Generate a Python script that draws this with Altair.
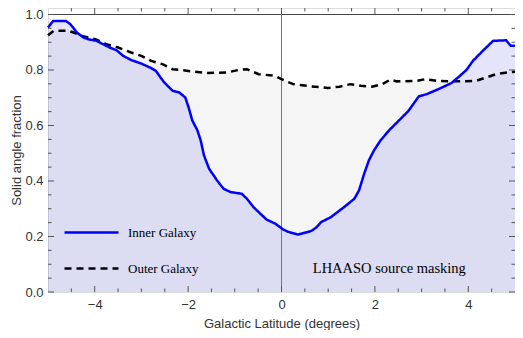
import altair as alt
import pandas as pd

# ---- data ----
x_inner = [-5.0, -4.89, -4.62, -4.52, -4.38, -4.24, -4.14, -3.96, -3.82, -3.68, -3.53, -3.39, -3.22, -3.00,
           -2.79, -2.69, -2.59, -2.51, -2.33, -2.19, -2.06, -1.98, -1.91, -1.80, -1.73, -1.66, -1.55, -1.38,
           -1.24, -1.09, -0.85, -0.74, -0.60, -0.49, -0.32, -0.14, 0.04, 0.14, 0.35, 0.64, 0.74, 0.85, 1.06,
           1.34, 1.56, 1.66, 1.77, 1.87, 1.98, 2.12, 2.30, 2.55, 2.72, 2.94, 3.11, 3.36, 3.64, 3.78, 3.96,
           4.10, 4.31, 4.53, 4.81, 4.91, 5.0]
y_inner = [0.953, 0.977, 0.977, 0.965, 0.935, 0.917, 0.911, 0.905, 0.893, 0.881, 0.871, 0.851, 0.836, 0.823,
           0.807, 0.797, 0.773, 0.755, 0.725, 0.719, 0.701, 0.660, 0.618, 0.582, 0.546, 0.492, 0.444, 0.402,
           0.372, 0.360, 0.354, 0.336, 0.306, 0.288, 0.261, 0.247, 0.225, 0.217, 0.207, 0.220, 0.232, 0.252,
           0.270, 0.306, 0.336, 0.366, 0.426, 0.474, 0.510, 0.546, 0.582, 0.624, 0.653, 0.705, 0.713, 0.731,
           0.753, 0.773, 0.800, 0.833, 0.869, 0.905, 0.907, 0.887, 0.887]

x_outer = [-5.0, -4.88, -4.56, -4.45, -4.28, -3.99, -3.75, -3.50, -3.22, -3.00, -2.79, -2.55, -2.33, -1.91,
           -1.62, -1.17, -0.92, -0.74, -0.49, -0.14, 0.0, 0.25, 0.64, 0.99, 1.24, 1.48, 1.70, 1.94, 2.16,
           2.33, 2.47, 2.90, 3.08, 3.32, 3.75, 4.17, 4.38, 4.60, 4.84, 5.0]
y_outer = [0.925, 0.941, 0.941, 0.935, 0.923, 0.911, 0.893, 0.881, 0.863, 0.851, 0.833, 0.821, 0.803, 0.795,
           0.789, 0.791, 0.800, 0.803, 0.785, 0.779, 0.767, 0.749, 0.741, 0.735, 0.740, 0.749, 0.743, 0.740,
           0.749, 0.765, 0.759, 0.761, 0.767, 0.761, 0.759, 0.761, 0.773, 0.785, 0.791, 0.794]

series_names = ["Inner Galaxy", "Outer Galaxy"]
x_major = [-4, -2, 0, 2, 4]
x_minor = [-4.5, -3.5, -3, -2.5, -1.5, -1, -0.5, 0.5, 1, 1.5, 2.5, 3, 3.5, 4.5]
y_major = [0.0, 0.2, 0.4, 0.6, 0.8, 1.0]
y_minor = [0.05, 0.1, 0.15, 0.25, 0.3, 0.35, 0.45, 0.5, 0.55, 0.65, 0.7, 0.75, 0.85, 0.9, 0.95]
annotation = "LHAASO source masking"

# ---- tables ----
df_in = pd.DataFrame({"b": x_inner, "f": y_inner, "series": series_names[0]})
df_out = pd.DataFrame({"b": x_outer, "f": y_outer, "series": series_names[1]})
df = pd.concat([df_out, df_in], ignore_index=True)

W, H = 467, 284
XD = [-5, 5]
YD = [0, 1.0234]
xs = alt.Scale(domain=XD, nice=False, zero=False)
ys = alt.Scale(domain=YD, nice=False, zero=False)

xaxis = alt.Axis(values=x_major, format="d", tickSize=0, domain=False, grid=False,
                 labelFontSize=13, labelColor="#333", labelPadding=6, labelFont="Liberation Sans",
                 title="Galactic Latitude (degrees)", titleFontSize=13, titleFontWeight="normal",
                 titleColor="#333", titleFont="Liberation Sans", titlePadding=6)
yaxis = alt.Axis(values=y_major, format=".1f", tickSize=0, domain=False, grid=False,
                 labelFontSize=13, labelColor="#333", labelPadding=5, labelFont="Liberation Sans",
                 title="Solid angle fraction", titleFontSize=13, titleFontWeight="normal",
                 titleColor="#333", titleFont="Liberation Sans", titlePadding=1)

outer_area = alt.Chart(df_out).mark_area(color="#000000", opacity=0.04).encode(
    x=alt.X("b:Q", scale=xs, axis=xaxis),
    y=alt.Y("f:Q", scale=ys, axis=yaxis),
)
inner_area = alt.Chart(df_in).mark_area(color="#7878e6", opacity=0.2).encode(
    x=alt.X("b:Q", scale=xs),
    y=alt.Y("f:Q", scale=ys),
)

one_line = alt.Chart(pd.DataFrame({"v": [1.0]})).mark_rule(color="#444", strokeWidth=1).encode(
    y=alt.Y("v:Q", scale=ys))
zero_line = alt.Chart(pd.DataFrame({"v": [0.0]})).mark_rule(color="#777", strokeWidth=1).encode(
    x=alt.X("v:Q", scale=xs))

leg = dict(title=None, orient="none", legendX=15, legendY=196, symbolType="stroke",
           symbolSize=2916, symbolStrokeWidth=2.5, labelFont="Liberation Serif", labelFontSize=13,
           labelColor="black", labelOffset=8, rowPadding=-1)
lines = alt.Chart(df).mark_line(strokeWidth=2.5).encode(
    x=alt.X("b:Q", scale=xs),
    y=alt.Y("f:Q", scale=ys),
    color=alt.Color("series:N", scale=alt.Scale(domain=series_names, range=["#0000ff", "#000000"]),
                    legend=alt.Legend(**leg)),
    strokeDash=alt.StrokeDash("series:N", scale=alt.Scale(domain=series_names, range=[[1, 0], [7, 5]]),
                              legend=alt.Legend(**leg)),
    order=alt.Order("series:N", sort="descending"),
)

text = alt.Chart(pd.DataFrame({"t": [annotation]})).mark_text(
    align="left", baseline="middle", font="Liberation Serif", fontSize=14.5, color="black").encode(
    x=alt.datum(0.67, scale=xs), y=alt.datum(0.083, scale=ys), text="t:N")

tick_col = "#555"
bx = pd.DataFrame({"v": x_major}); mx = pd.DataFrame({"v": x_minor})
by = pd.DataFrame({"v": y_major}); my = pd.DataFrame({"v": y_minor})
ticks = [
    alt.Chart(bx).mark_rule(color=tick_col).encode(x=alt.X("v:Q", scale=xs), y=alt.value(H), y2=alt.value(H - 6)),
    alt.Chart(bx).mark_rule(color=tick_col).encode(x=alt.X("v:Q", scale=xs), y=alt.value(0), y2=alt.value(6)),
    alt.Chart(mx).mark_rule(color=tick_col).encode(x=alt.X("v:Q", scale=xs), y=alt.value(H), y2=alt.value(H - 3.5)),
    alt.Chart(mx).mark_rule(color=tick_col).encode(x=alt.X("v:Q", scale=xs), y=alt.value(0), y2=alt.value(3.5)),
    alt.Chart(by).mark_rule(color=tick_col).encode(y=alt.Y("v:Q", scale=ys), x=alt.value(0), x2=alt.value(6)),
    alt.Chart(by).mark_rule(color=tick_col).encode(y=alt.Y("v:Q", scale=ys), x=alt.value(W), x2=alt.value(W - 6)),
    alt.Chart(my).mark_rule(color=tick_col).encode(y=alt.Y("v:Q", scale=ys), x=alt.value(0), x2=alt.value(3.5)),
    alt.Chart(my).mark_rule(color=tick_col).encode(y=alt.Y("v:Q", scale=ys), x=alt.value(W), x2=alt.value(W - 3.5)),
]

chart = alt.layer(outer_area, inner_area, one_line, zero_line, *ticks, lines, text).properties(
    width=W, height=H,
    autosize=alt.AutoSizeParams(type="none"),
    padding={"left": 40, "top": 0, "right": 0, "bottom": 38},
).configure_view(stroke="#555", strokeWidth=1).configure(background="white")

chart.save("out.html", embed_options={"renderer": "svg", "actions": False})
